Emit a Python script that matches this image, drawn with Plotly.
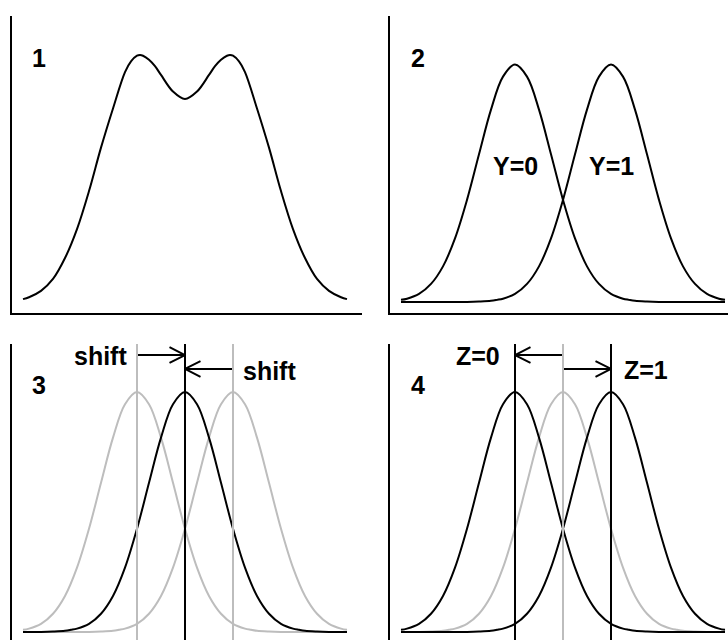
import plotly.graph_objects as go

# ---------------------------------------------------------------------------
# Data (x in "shift" units, heights relative to a single group's peak)
# ---------------------------------------------------------------------------
# Density of one group at offsets from its mean (positive side, symmetric)
profile_offset = [0.0, 0.25, 0.5, 0.75, 1.0, 1.25, 1.5, 1.75, 2.0, 2.25,
                  2.375, 2.5, 2.75, 3.0, 3.375, 3.75, 4.375]
profile_height = [1.000, 0.949, 0.810, 0.622, 0.430, 0.268, 0.150, 0.076,
                  0.034, 0.014, 0.009, 0.005, 0.002, 0.0005, 0.0, 0.0, 0.0]

# Pooled two-group density (panel 1) at offsets from its centre
mixture_offset = [0.0, 0.25, 0.5, 0.625, 0.75, 0.875, 0.9375, 1.0, 1.125,
                  1.25, 1.5, 1.75, 2.0, 2.25, 2.5, 2.75, 3.0, 3.25, 3.375]
mixture_height = [0.855, 0.886, 0.956, 0.993, 1.020, 1.037, 1.040, 1.037,
                  1.013, 0.968, 0.815, 0.650, 0.467, 0.307, 0.185, 0.097,
                  0.047, 0.020, 0.012]

outcome_means = [-1, 1]          # panel 2: Y=0, Y=1
outcome_labels = ["Y=0", "Y=1"]
shift_means = [-1, 0, 1]         # panel 3: gray, shifted (black), gray
pooled_mean = 0                  # panel 4: gray reference
exposure_means = [-1, 1]         # panel 4: Z=0, Z=1
exposure_labels = ["Z=0", "Z=1"]
panel_labels = ["1", "2", "3", "4"]
curve_half_width = 3.375         # curves drawn over [-3.375, 3.375]

# ---------------------------------------------------------------------------
# Layout geometry (pixels)
# ---------------------------------------------------------------------------
W, H = 728, 640
UNIT_X = 48.0
panels = {
    # name: (left, right, top, bottom, centre_x, baseline_y, px_per_height)
    1: (12, 362, 16, 313, 185, 302, 237.5),
    2: (390, 728, 16, 313, 563, 302, 237.5),
    3: (12, 362, 344, 640, 185, 632, 240.0),
    4: (390, 728, 344, 640, 563, 632, 240.0),
}
BLACK = "#000000"
GRAY = "#bdbdbd"
FONT = dict(family="Liberation Sans, Arial, sans-serif", size=25,
            color=BLACK, weight="bold")


def mirror(offsets, heights):
    xs = [-o for o in reversed(offsets[1:])] + list(offsets)
    ys = list(reversed(heights[1:])) + list(heights)
    return xs, ys


prof_x, prof_y = mirror(profile_offset, profile_height)
mix_x, mix_y = mirror(mixture_offset, mixture_height)


def density(center):
    pts = [(center + dx, h) for dx, h in zip(prof_x, prof_y)
           if abs(center + dx) <= curve_half_width + 1e-9]
    return [p[0] for p in pts], [p[1] for p in pts]


fig = go.Figure()


def axref(i):
    return ("x", "y") if i == 1 else (f"x{i}", f"y{i}")


def curve(i, xs, ys, color):
    xr, yr = axref(i)
    fig.add_trace(go.Scatter(x=xs, y=ys, mode="lines", xaxis=xr, yaxis=yr,
                             line=dict(color=color, width=2, shape="spline",
                                       smoothing=1.0),
                             hoverinfo="skip", showlegend=False))


def vline(i, x, color):
    xr, yr = axref(i)
    fig.add_shape(type="line", xref=xr, yref=f"{yr} domain", x0=x, x1=x,
                  y0=0, y1=1, line=dict(color=color, width=2), layer="above")


def arrow(i, start, tip, level):
    xr, yr = axref(i)
    d = 1 if tip > start else -1
    hx, hy = 0.323 * d, 0.033
    fig.add_trace(go.Scatter(
        x=[start, tip, None, tip - hx, tip, tip - hx],
        y=[level, level, None, level + hy, level, level - hy],
        mode="lines", xaxis=xr, yaxis=yr,
        line=dict(color=BLACK, width=2), hoverinfo="skip", showlegend=False))


def label(i, text, x, y):
    xr, yr = axref(i)
    fig.add_annotation(text=text, x=x, y=y, xref=xr, yref=yr,
                       xanchor="center", yanchor="middle", showarrow=False,
                       font=FONT)


# Panel 1: pooled density
curve(1, mix_x, mix_y, BLACK)

# Panel 2: the two outcome groups
for m, t in zip(outcome_means, outcome_labels):
    xs, ys = density(m)
    curve(2, xs, ys, BLACK)
    label(2, t, m, 0.573)

# Panel 3: outer groups shifted onto the centre
for m in shift_means:
    if m != 0:
        xs, ys = density(m)
        curve(3, xs, ys, GRAY)
        vline(3, m, GRAY)
xs, ys = density(0)
curve(3, xs, ys, BLACK)
vline(3, 0, BLACK)
arrow(3, shift_means[0], 0, 1.154)
arrow(3, shift_means[2], 0, 1.096)
label(3, "shift", -1.77, 1.149)
label(3, "shift", 1.75, 1.086)

# Panel 4: pooled centre split into the two exposure groups
xs, ys = density(pooled_mean)
curve(4, xs, ys, GRAY)
vline(4, pooled_mean, GRAY)
for m in exposure_means:
    xs, ys = density(m)
    curve(4, xs, ys, BLACK)
    vline(4, m, BLACK)
arrow(4, pooled_mean, exposure_means[0], 1.154)
arrow(4, pooled_mean, exposure_means[1], 1.096)
label(4, exposure_labels[0], -1.77, 1.149)
label(4, exposure_labels[1], 1.73, 1.090)

# Panel numbers
label(1, panel_labels[0], -3.04, 1.029)
label(2, panel_labels[1], -3.02, 1.029)
label(3, panel_labels[2], -3.04, 1.031)
label(4, panel_labels[3], -3.02, 1.031)

# Axes
layout = {}
for i, (l, r, t, b, cx, base, ppu) in panels.items():
    xname = "xaxis" if i == 1 else f"xaxis{i}"
    yname = "yaxis" if i == 1 else f"yaxis{i}"
    xr, yr = axref(i)
    layout[xname] = dict(
        domain=[l / W, r / W],
        range=[(l - cx) / UNIT_X, (r - cx) / UNIT_X],
        anchor=yr, showgrid=False, zeroline=False, showticklabels=False,
        ticks="", showline=(i <= 2), linecolor=BLACK, linewidth=2,
        fixedrange=True)
    layout[yname] = dict(
        domain=[1 - b / H, 1 - t / H],
        range=[(base - b) / ppu, (base - t) / ppu],
        anchor=xr, showgrid=False, zeroline=False, showticklabels=False,
        ticks="", showline=True, linecolor=BLACK, linewidth=2,
        fixedrange=True)

fig.update_layout(
    width=W, height=H,
    margin=dict(l=0, r=0, t=0, b=0),
    paper_bgcolor="white", plot_bgcolor="white",
    showlegend=False,
    **layout,
)

fig.write_html("out.html")
